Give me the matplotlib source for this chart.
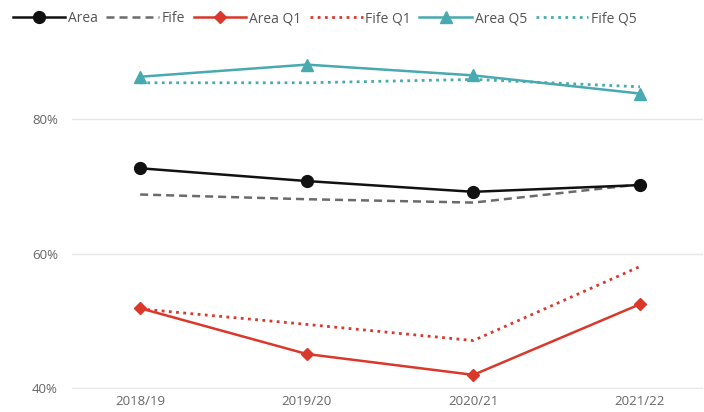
import matplotlib
matplotlib.use("Agg")
from matplotlib import pyplot as plt

years = ['2018/19', '2019/20', '2020/21', '2021/22']

area = [72.7, 70.8, 69.2, 70.2]
fife = [68.8, 68.1, 67.6, 70.3]
area_q1 = [51.9, 45.1, 42.0, 52.5]
fife_q1 = [51.8, 49.5, 47.1, 58.1]
area_q5 = [86.3, 88.1, 86.5, 83.8]
fife_q5 = [85.4, 85.4, 85.9, 84.8]

yticks = [40, 60, 80]

plt.rcParams['font.family'] = ['Open Sans', 'DejaVu Sans']

black = '#111111'
grey = '#6b6b6b'
red = '#d9382b'
teal = '#48aab0'

fig = plt.figure(figsize=(7.04, 4.12), dpi=100)
ax = fig.add_axes([0.102, 0.055, 0.897, 0.829])

x = range(len(years))
ax.plot(x, area, color=black, lw=1.8, marker='o', ms=8.5, label='Area', zorder=5)
ax.plot(x, fife, color=grey, lw=1.8, ls=(0, (3.2, 2)), label='Fife', zorder=4)
ax.plot(x, area_q1, color=red, lw=1.8, marker='D', ms=6.5, label='Area Q1', zorder=5)
ax.plot(x, fife_q1, color=red, lw=2, ls=(0, (1, 1.6)), label='Fife Q1', zorder=4)
ax.plot(x, area_q5, color=teal, lw=1.8, marker='^', ms=8.5, label='Area Q5', zorder=5)
ax.plot(x, fife_q5, color=teal, lw=2, ls=(0, (1, 1.6)), label='Fife Q5', zorder=4)

ax.set_xlim(-0.41, 3.38)
ax.set_ylim(39.85, 90.6)
ax.set_xticks(list(x))
ax.set_xticklabels(years)
ax.set_yticks(yticks)
ax.set_yticklabels([f'{v}%' for v in yticks])
ax.tick_params(length=0, labelsize=9.5, labelcolor='#666666')
ax.tick_params(axis='y', pad=10)
ax.tick_params(axis='x', pad=4)
for s in ax.spines.values():
    s.set_visible(False)
ax.grid(axis='y', color='#e6e6e6', lw=1)
ax.set_axisbelow(True)

fig.legend(loc='center left', bbox_to_anchor=(0.018, 0.955), ncol=6, frameon=False,
           fontsize=10, labelcolor='#555555', handlelength=3.8, handletextpad=0.2,
           columnspacing=0.6, borderaxespad=0.0, borderpad=0.0)

fig.savefig('out.png', dpi=100)
